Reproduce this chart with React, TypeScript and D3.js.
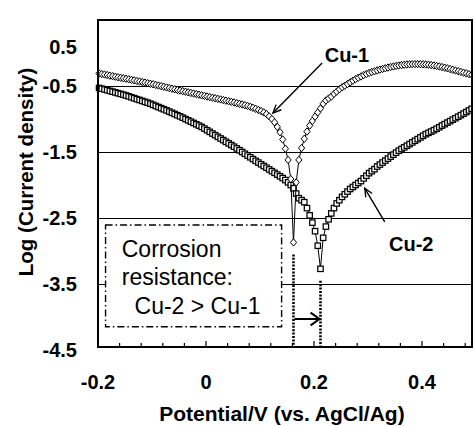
import React from 'react';
import * as d3 from 'd3';

// Potential sweep (V vs. AgCl/Ag), shared by both series
const potentials = [
  -0.198, -0.193, -0.188, -0.183, -0.178, -0.173, -0.168, -0.163, -0.158, -0.153,
  -0.148, -0.143, -0.138, -0.133, -0.128, -0.123, -0.118, -0.113, -0.108, -0.103,
  -0.098, -0.093, -0.088, -0.083, -0.078, -0.073, -0.068, -0.063, -0.058, -0.053,
  -0.048, -0.043, -0.038, -0.033, -0.028, -0.023, -0.018, -0.013, -0.008, -0.003,
  0.002, 0.007, 0.012, 0.017, 0.022, 0.027, 0.032, 0.037, 0.042, 0.047,
  0.052, 0.057, 0.062, 0.067, 0.072, 0.077, 0.082, 0.087, 0.092, 0.097,
  0.102, 0.107, 0.112, 0.117, 0.122, 0.127, 0.132, 0.137, 0.142, 0.147,
  0.152, 0.157, 0.162, 0.167, 0.172, 0.177, 0.182, 0.187, 0.192, 0.197,
  0.202, 0.207, 0.212, 0.217, 0.222, 0.227, 0.232, 0.237, 0.242, 0.247,
  0.252, 0.257, 0.262, 0.267, 0.272, 0.277, 0.282, 0.287, 0.292, 0.297,
  0.302, 0.307, 0.312, 0.317, 0.322, 0.327, 0.332, 0.337, 0.342, 0.347,
  0.352, 0.357, 0.362, 0.367, 0.372, 0.377, 0.382, 0.387, 0.392, 0.397,
  0.402, 0.407, 0.412, 0.417, 0.422, 0.427, 0.432, 0.437, 0.442, 0.447,
  0.452, 0.457, 0.462, 0.467, 0.472, 0.477, 0.482, 0.487, 0.492,
];

const cu1LogI = [
  -0.31, -0.318, -0.326, -0.334, -0.343, -0.351, -0.359, -0.367, -0.375, -0.383,
  -0.39, -0.398, -0.407, -0.415, -0.424, -0.432, -0.44, -0.449, -0.457, -0.466,
  -0.474, -0.484, -0.493, -0.503, -0.512, -0.522, -0.531, -0.541, -0.55, -0.56,
  -0.569, -0.578, -0.587, -0.596, -0.605, -0.614, -0.623, -0.632, -0.641, -0.65,
  -0.659, -0.668, -0.677, -0.686, -0.695, -0.704, -0.713, -0.722, -0.731, -0.74,
  -0.749, -0.76, -0.77, -0.78, -0.791, -0.802, -0.815, -0.83, -0.846, -0.862,
  -0.88, -0.9, -0.925, -0.96, -1.0, -1.05, -1.12, -1.2, -1.31, -1.45,
  -1.62, -1.91, -2.87, -1.96, -1.62, -1.44, -1.3, -1.19, -1.1, -1.03,
  -0.965, -0.9, -0.84, -0.77, -0.72, -0.69, -0.66, -0.62, -0.585, -0.55,
  -0.52, -0.495, -0.47, -0.445, -0.42, -0.395, -0.375, -0.355, -0.335, -0.318,
  -0.302, -0.288, -0.276, -0.264, -0.252, -0.241, -0.231, -0.221, -0.212, -0.204,
  -0.196, -0.189, -0.183, -0.178, -0.174, -0.171, -0.169, -0.168, -0.168, -0.169,
  -0.171, -0.174, -0.178, -0.183, -0.189, -0.196, -0.204, -0.213, -0.222, -0.232,
  -0.243, -0.254, -0.265, -0.276, -0.287, -0.298, -0.309, -0.32, -0.33,
];

const cu2LogI = [
  -0.53, -0.541, -0.552, -0.563, -0.575, -0.586, -0.597, -0.609, -0.62, -0.632,
  -0.644, -0.657, -0.671, -0.685, -0.699, -0.712, -0.726, -0.74, -0.754, -0.768,
  -0.785, -0.802, -0.819, -0.836, -0.853, -0.87, -0.888, -0.906, -0.924, -0.942,
  -0.96, -0.98, -1.0, -1.02, -1.04, -1.06, -1.08, -1.1, -1.12, -1.145,
  -1.17, -1.195, -1.22, -1.245, -1.27, -1.295, -1.32, -1.345, -1.37, -1.395,
  -1.42, -1.446, -1.473, -1.5, -1.527, -1.554, -1.58, -1.607, -1.634, -1.66,
  -1.686, -1.712, -1.738, -1.764, -1.79, -1.816, -1.842, -1.868, -1.895, -1.925,
  -1.96, -2.0, -2.05, -2.13, -2.2, -2.23, -2.26, -2.35, -2.46, -2.57,
  -2.7, -2.92, -3.27, -2.8, -2.63, -2.52, -2.43, -2.35, -2.28, -2.23,
  -2.18, -2.14, -2.1, -2.06, -2.03, -2.0, -1.97, -1.94, -1.9, -1.86,
  -1.82, -1.79, -1.76, -1.72, -1.69, -1.66, -1.63, -1.6, -1.57, -1.54,
  -1.51, -1.48, -1.455, -1.43, -1.405, -1.38, -1.355, -1.33, -1.305, -1.28,
  -1.255, -1.23, -1.21, -1.19, -1.17, -1.148, -1.125, -1.1, -1.078, -1.055,
  -1.033, -1.01, -0.988, -0.965, -0.942, -0.918, -0.895, -0.87, -0.845,
];

const seriesNames = ['Cu-1', 'Cu-2'];
const corrosionPotentials = [0.162, 0.212];
const corrosionLogI = [-2.87, -3.27];

const xTickValues = [-0.2, 0, 0.2, 0.4];
const xTickLabels = ['-0.2', '0', '0.2', '0.4'];
const yGridValues = [-0.5, -1.5, -2.5, -3.5];
const yTickValues = [0.5, -0.5, -1.5, -2.5, -3.5, -4.5];
const yTickLabels = ['0.5', '-0.5', '-1.5', '-2.5', '-3.5', '-4.5'];
const boxLines = ['Corrosion', 'resistance:', '  Cu-2 > Cu-1'];

const W = 473;
const H = 426;
const PL = 98, PT = 20, PR = 472, PB = 347;
const FONT = "'Liberation Sans', Arial, Helvetica, sans-serif";

export default function App() {
  const x = d3.scaleLinear().domain([-0.2, 0.5]).range([PL, PL + 0.7 * 540]);
  const y = d3.scaleLinear().domain([-4.5, 0.5]).range([350, PT]);

  const line = d3
    .line<number>()
    .x((_, i) => x(potentials[i]))
    .y((d) => y(d));

  const minorTicks = d3.range(-0.2, 0.49, 0.04);

  const arrowHead = (x1: number, y1: number, x2: number, y2: number, len: number, ang: number) => {
    const a = Math.atan2(y2 - y1, x2 - x1);
    const p1 = [x2 - len * Math.cos(a - ang), y2 - len * Math.sin(a - ang)];
    const p2 = [x2 - len * Math.cos(a + ang), y2 - len * Math.sin(a + ang)];
    return `M${p1[0]},${p1[1]}L${x2},${y2}L${p2[0]},${p2[1]}`;
  };

  const diamond = 'M0,-3.7L3.1,0L0,3.7L-3.1,0Z';

  // annotation anchors in data units
  const cu1Arrow = [[0.215, -0.15], [0.124, -0.91]];
  const cu2Arrow = [[0.331, -2.56], [0.294, -2.05]];
  const ecorrArrowY = -4.03;

  const boxX0 = x(-0.186), boxX1 = x(0.14), boxY0 = y(-2.606), boxY1 = y(-4.147);
  const crisp = (v: number) => Math.round(v) + 0.5;

  return (
    <svg
      width={W}
      height={H}
      style={{ position: 'absolute', left: 0, top: 0, background: '#fff' }}
      fontFamily={FONT}
    >
      <rect x={0} y={0} width={W} height={H} fill="#fff" />
      {/* gridlines */}
      {yGridValues.map((v) => (
        <line key={v} x1={PL} x2={PR} y1={crisp(y(v))} y2={crisp(y(v))} stroke="#000" strokeWidth={1} />
      ))}

      {/* corrosion potential dotted lines */}
      {corrosionPotentials.map((e, i) => (
        <line
          key={e}
          x1={x(e)}
          x2={x(e)}
          y1={y(corrosionLogI[i]) + 12}
          y2={PB + 1}
          stroke="#000"
          strokeWidth={2.6}
          strokeDasharray="2,1.4"
        />
      ))}

      {/* series Cu-2 (squares) */}
      <path d={line(cu2LogI) || ''} fill="none" stroke="#000" strokeWidth={1} />
      {cu2LogI.map((v, i) => (
        <rect
          key={'s' + i}
          x={x(potentials[i]) - 2.7}
          y={y(v) - 2.7}
          width={5.4}
          height={5.4}
          fill="#fff"
          stroke="#000"
          strokeWidth={1.25}
        />
      ))}

      {/* series Cu-1 (diamonds) */}
      <path d={line(cu1LogI) || ''} fill="none" stroke="#000" strokeWidth={1} />
      {cu1LogI.map((v, i) => (
        <path
          key={'d' + i}
          d={diamond}
          transform={`translate(${x(potentials[i])},${y(v)})`}
          fill="#fff"
          stroke="#000"
          strokeWidth={1}
        />
      ))}

      {/* corrosion resistance box */}
      <rect
        x={boxX0}
        y={boxY0}
        width={boxX1 - boxX0}
        height={boxY1 - boxY0}
        fill="#fff"
        stroke="#000"
        strokeWidth={1.4}
        strokeDasharray="7,3,1.5,3"
      />
      {boxLines.map((t, i) => (
        <text
          key={t}
          x={x(-0.156)}
          y={y(-3.09) + i * 28.5}
          fontSize={23}
          fill="#000"
          style={{ whiteSpace: 'pre' }}
        >
          {t}
        </text>
      ))}

      {/* arrow between corrosion potentials */}
      <line
        x1={x(corrosionPotentials[0]) + 1}
        x2={x(corrosionPotentials[1]) - 1}
        y1={y(ecorrArrowY)}
        y2={y(ecorrArrowY)}
        stroke="#000"
        strokeWidth={2}
      />
      <path
        d={arrowHead(x(corrosionPotentials[0]), y(ecorrArrowY), x(corrosionPotentials[1]) - 1, y(ecorrArrowY), 11, 0.62)}
        fill="none"
        stroke="#000"
        strokeWidth={2}
      />

      {/* label arrows */}
      {[cu1Arrow, cu2Arrow].map((a, i) => {
        const x1 = x(a[0][0]), y1 = y(a[0][1]), x2 = x(a[1][0]), y2 = y(a[1][1]);
        return (
          <g key={'a' + i}>
            <line x1={x1} y1={y1} x2={x2} y2={y2} stroke="#000" strokeWidth={1.4} />
            <path d={arrowHead(x1, y1, x2, y2, 9, 0.42)} fill="none" stroke="#000" strokeWidth={1.4} />
          </g>
        );
      })}
      <text x={x(0.261)} y={y(-0.03) + 7} fontSize={20} fontWeight="bold" textAnchor="middle">
        {seriesNames[0]}
      </text>
      <text x={x(0.38)} y={y(-2.89) + 7} fontSize={20} fontWeight="bold" textAnchor="middle">
        {seriesNames[1]}
      </text>

      {/* frame */}
      <rect x={PL} y={PT} width={PR - PL} height={PB - PT} fill="none" stroke="#000" strokeWidth={2} />

      {/* x ticks (inside) */}
      {minorTicks.map((t) => {
        const major = xTickValues.some((m) => Math.abs(m - t) < 1e-6);
        return (
          <line
            key={'t' + t}
            x1={x(t)}
            x2={x(t)}
            y1={PB}
            y2={PB - (major ? 6 : 4)}
            stroke="#000"
            strokeWidth={1.2}
          />
        );
      })}

      {/* x tick labels */}
      {xTickValues.map((v, i) => (
        <text key={'xl' + v} x={x(v)} y={389} fontSize={20} fontWeight="bold" textAnchor="middle">
          {xTickLabels[i]}
        </text>
      ))}
      {/* y tick labels */}
      {yTickValues.map((v, i) => (
        <text
          key={'yl' + v}
          x={77}
          y={(i === 0 ? 47 : y(v)) + 7}
          fontSize={20}
          fontWeight="bold"
          textAnchor="end"
        >
          {yTickLabels[i]}
        </text>
      ))}

      {/* axis titles */}
      <text x={282} y={421} fontSize={21} fontWeight="bold" textAnchor="middle">
        Potential/V (vs. AgCl/Ag)
      </text>
      <text
        transform={`translate(33,172) rotate(-90)`}
        fontSize={20.5}
        fontWeight="bold"
        textAnchor="middle"
      >
        Log (Current density)
      </text>
    </svg>
  );
}
